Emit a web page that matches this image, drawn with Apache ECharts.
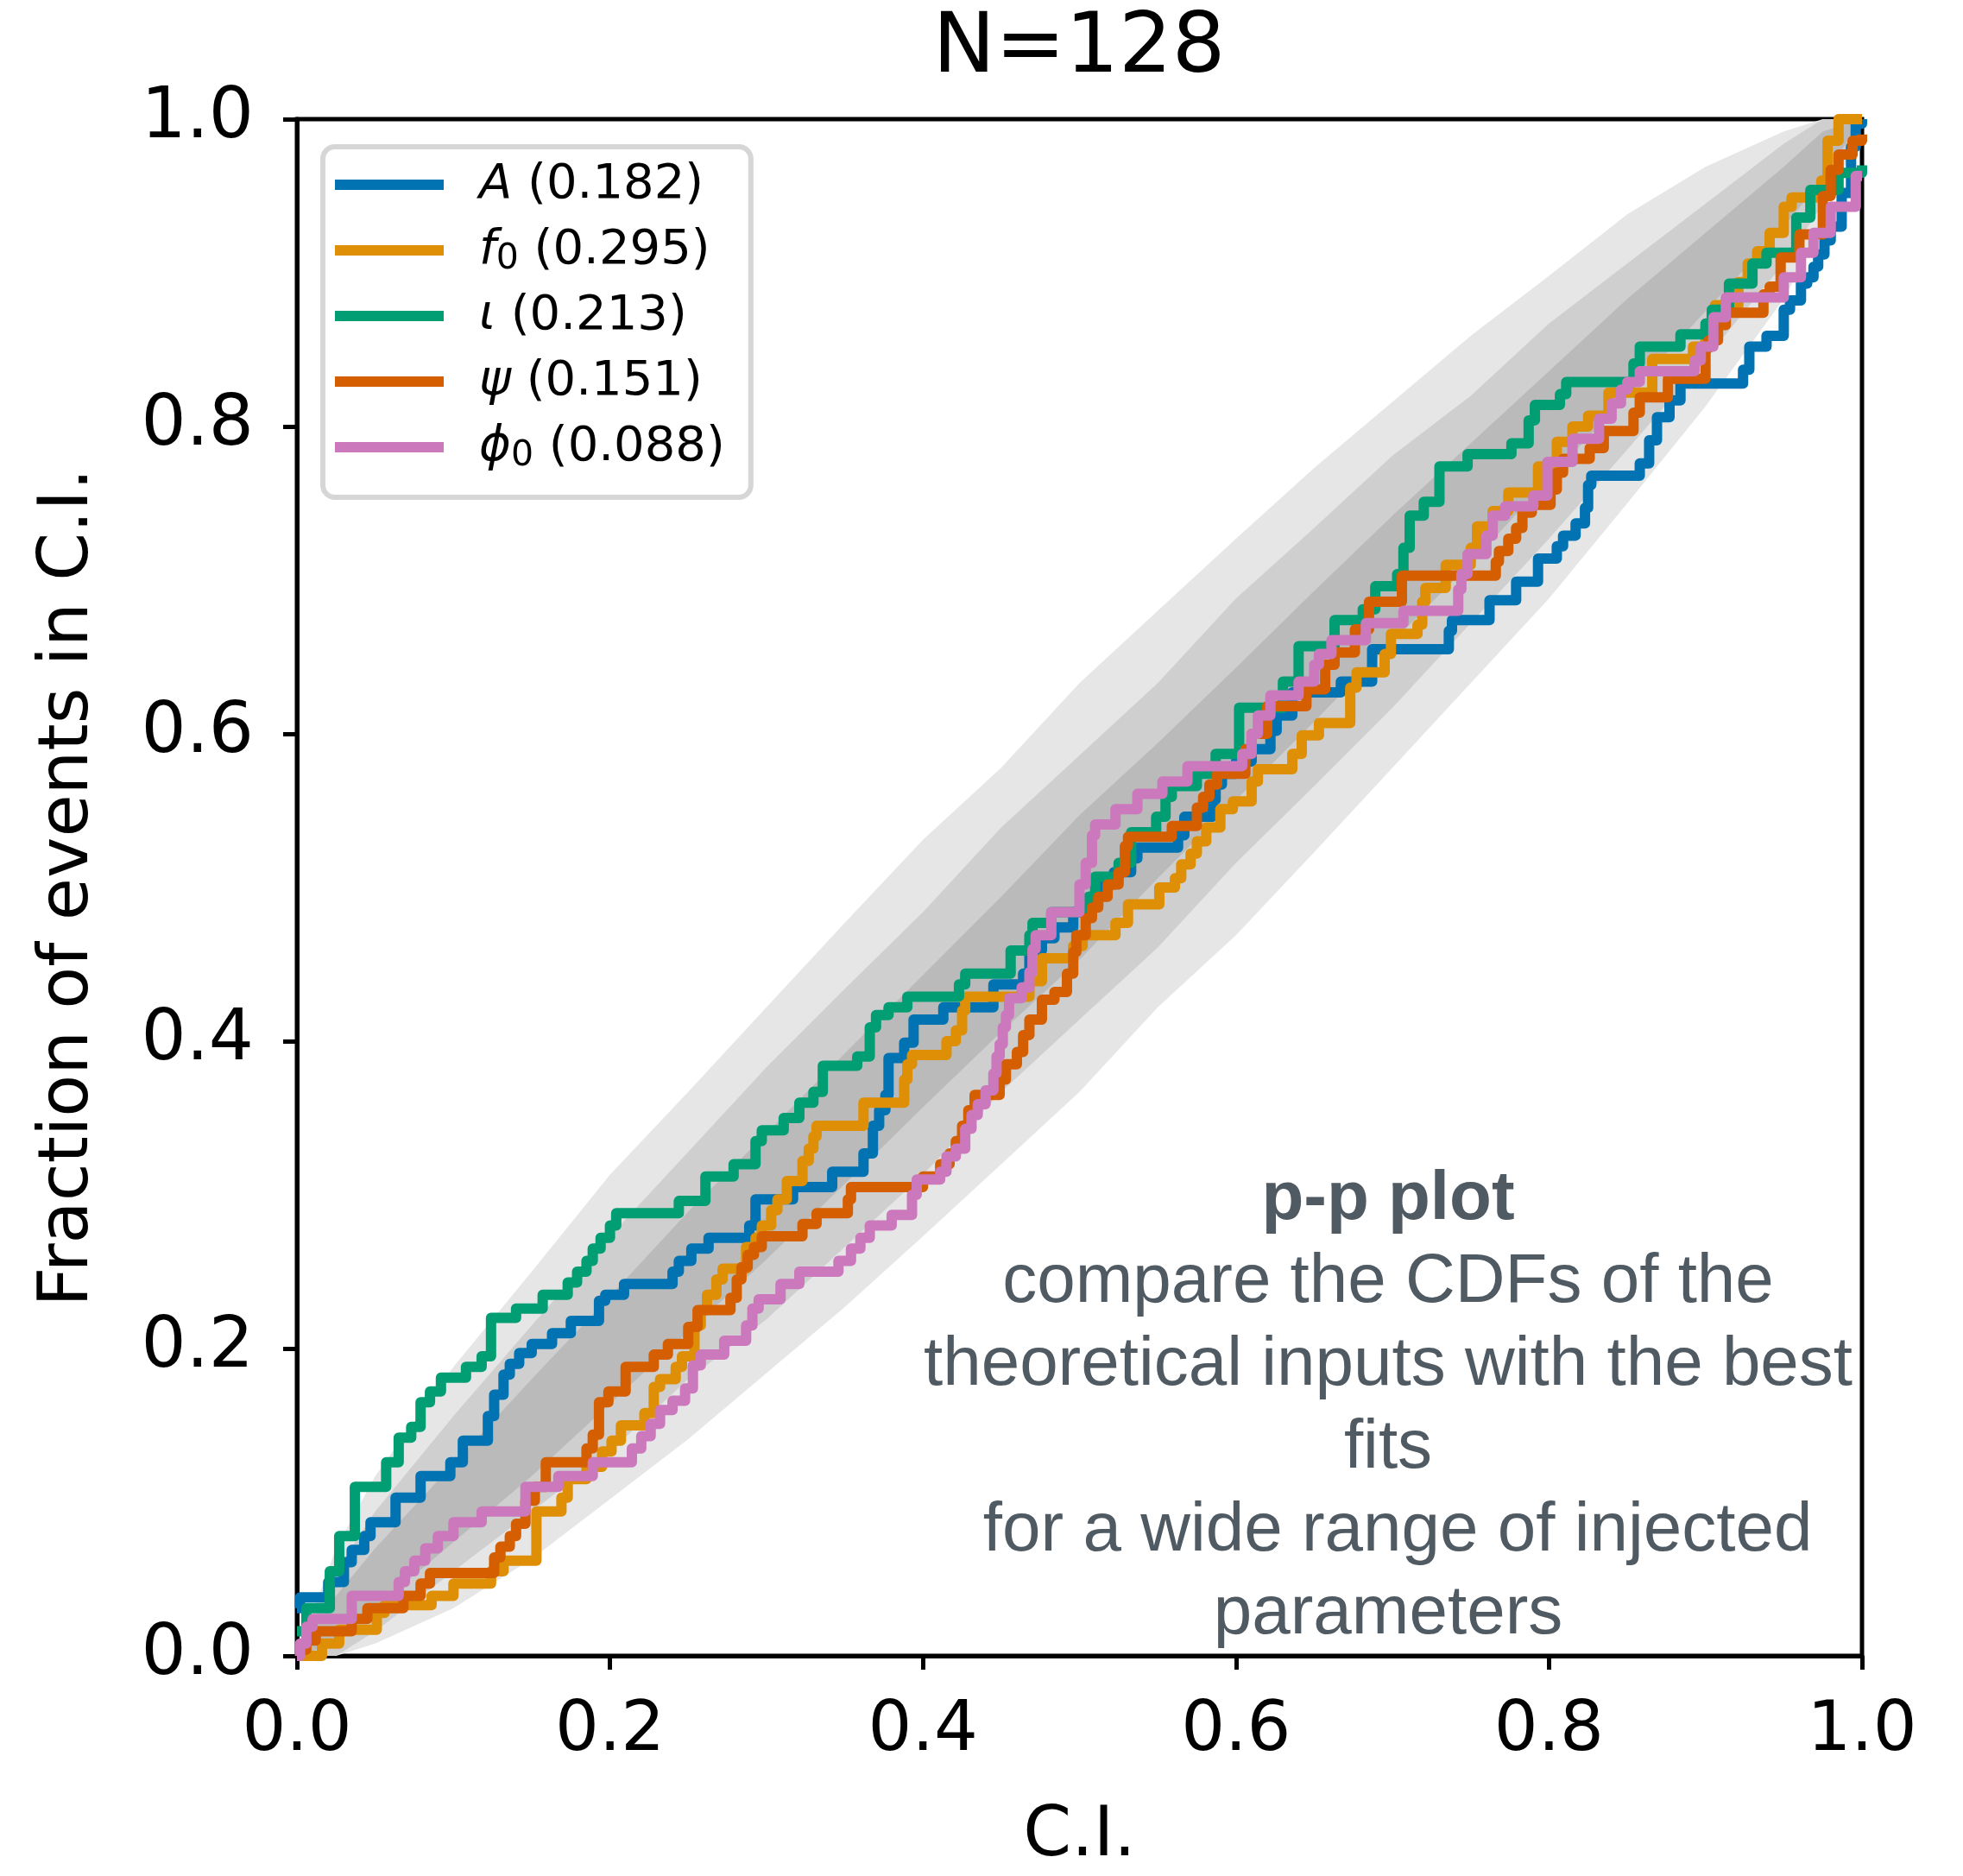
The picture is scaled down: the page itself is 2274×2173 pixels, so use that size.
<!DOCTYPE html>
<html><head><meta charset="utf-8">
<script src="https://cdn.jsdelivr.net/npm/echarts@6/dist/echarts.min.js"></script>
<style>html,body{margin:0;padding:0;background:#fff}#c{width:2274px;height:2173px}</style>
</head><body><div id="c"></div>
<script>
// ---------- text ----------
const titleText = 'N=128';
const xAxisName = 'C.I.';
const yAxisName = 'Fraction of events in C.I.';
const seriesNames = ['A (0.182)', 'f0 (0.295)', 'ι (0.213)', 'ψ (0.151)', 'ϕ0 (0.088)'];
const legendRichText = ['{it|A} (0.182)', '{it|f}{sub|0} (0.295)', '{it|ι} (0.213)', '{it|ψ} (0.151)', '{it|ϕ}{sub|0} (0.088)'];
const seriesColors = ['#0173b2', '#de8f05', '#029e73', '#d55e00', '#cc78bc'];
const noteTitle = 'p-p plot';
const noteLines = ['compare the CDFs of the', 'theoretical inputs with the best', 'fits', ' for a wide range of injected', 'parameters'];

// ---------- confidence bands ----------
const ciGrid  = [0, 0.025, 0.05, 0.1, 0.15, 0.2, 0.25, 0.3, 0.35, 0.4, 0.45, 0.5, 0.55, 0.6, 0.65, 0.7, 0.75, 0.8, 0.85, 0.9, 0.95, 0.975, 1];
const band3Lo = [0, 0, 0.008, 0.031, 0.063, 0.102, 0.141, 0.184, 0.227, 0.273, 0.320, 0.367, 0.422, 0.469, 0.523, 0.578, 0.633, 0.688, 0.750, 0.813, 0.883, 0.930, 1];
const band3Hi = [0, 0.070, 0.117, 0.188, 0.250, 0.313, 0.367, 0.422, 0.477, 0.531, 0.578, 0.633, 0.680, 0.727, 0.773, 0.816, 0.859, 0.898, 0.938, 0.969, 0.992, 1, 1];
const band2Lo = [0, 0, 0.016, 0.055, 0.094, 0.133, 0.180, 0.219, 0.266, 0.313, 0.367, 0.414, 0.461, 0.516, 0.566, 0.617, 0.672, 0.727, 0.785, 0.844, 0.906, 0.945, 1];
const band2Hi = [0, 0.055, 0.094, 0.156, 0.215, 0.273, 0.328, 0.383, 0.434, 0.484, 0.539, 0.586, 0.633, 0.688, 0.734, 0.781, 0.820, 0.867, 0.906, 0.945, 0.984, 1, 1];
const band1Lo = [0, 0.008, 0.031, 0.074, 0.117, 0.164, 0.211, 0.258, 0.307, 0.357, 0.406, 0.453, 0.506, 0.557, 0.608, 0.660, 0.711, 0.766, 0.820, 0.875, 0.930, 0.961, 1];
const band1Hi = [0, 0.039, 0.070, 0.125, 0.180, 0.234, 0.289, 0.340, 0.392, 0.443, 0.494, 0.547, 0.594, 0.643, 0.693, 0.742, 0.789, 0.836, 0.883, 0.926, 0.969, 0.992, 1];

// ---------- p-p curves: [C.I., fraction] step corners ----------
const ppA = [[0,0.031],[0.002,0.038],[0.020,0.048],[0.030,0.061],[0.035,0.069],[0.043,0.078],[0.047,0.087],[0.063,0.103],[0.079,0.117],[0.098,0.126],[0.106,0.140],[0.122,0.156],[0.126,0.170],[0.132,0.183],[0.136,0.190],[0.142,0.197],[0.150,0.203],[0.163,0.210],[0.175,0.218],[0.193,0.231],[0.197,0.235],[0.209,0.242],[0.240,0.250],[0.244,0.257],[0.252,0.265],[0.263,0.272],[0.289,0.280],[0.293,0.297],[0.317,0.305],[0.342,0.315],[0.362,0.327],[0.368,0.345],[0.372,0.355],[0.376,0.365],[0.378,0.389],[0.388,0.399],[0.394,0.414],[0.413,0.422],[0.445,0.437],[0.464,0.444],[0.468,0.459],[0.476,0.467],[0.484,0.474],[0.496,0.484],[0.506,0.494],[0.512,0.502],[0.522,0.510],[0.533,0.519],[0.537,0.526],[0.563,0.534],[0.567,0.546],[0.585,0.557],[0.587,0.567],[0.591,0.574],[0.600,0.582],[0.610,0.590],[0.622,0.602],[0.626,0.612],[0.636,0.627],[0.667,0.634],[0.687,0.655],[0.736,0.667],[0.738,0.674],[0.762,0.687],[0.779,0.699],[0.793,0.714],[0.805,0.722],[0.809,0.729],[0.817,0.737],[0.823,0.747],[0.825,0.762],[0.827,0.768],[0.858,0.776],[0.864,0.791],[0.869,0.806],[0.877,0.817],[0.884,0.828],[0.924,0.837],[0.928,0.852],[0.939,0.859],[0.950,0.876],[0.954,0.882],[0.961,0.893],[0.965,0.897],[0.969,0.904],[0.972,0.912],[0.976,0.921],[0.980,0.930],[0.987,0.952],[0.993,0.982],[0.996,0.997],[1.0,1.0]];
const ppF0 = [[0,0.0],[0.016,0.008],[0.027,0.017],[0.051,0.028],[0.056,0.033],[0.086,0.039],[0.100,0.047],[0.124,0.055],[0.132,0.062],[0.153,0.094],[0.169,0.103],[0.173,0.115],[0.185,0.123],[0.195,0.133],[0.201,0.140],[0.207,0.150],[0.222,0.158],[0.228,0.175],[0.232,0.180],[0.242,0.188],[0.246,0.195],[0.254,0.215],[0.258,0.225],[0.262,0.235],[0.268,0.245],[0.272,0.252],[0.287,0.266],[0.293,0.272],[0.297,0.280],[0.303,0.290],[0.307,0.297],[0.313,0.309],[0.323,0.322],[0.327,0.330],[0.330,0.338],[0.332,0.345],[0.362,0.360],[0.388,0.375],[0.390,0.385],[0.393,0.391],[0.415,0.400],[0.421,0.407],[0.425,0.420],[0.427,0.429],[0.468,0.439],[0.476,0.454],[0.496,0.462],[0.502,0.469],[0.523,0.477],[0.531,0.489],[0.551,0.500],[0.561,0.506],[0.565,0.515],[0.571,0.522],[0.575,0.530],[0.581,0.539],[0.590,0.551],[0.598,0.556],[0.610,0.569],[0.614,0.577],[0.636,0.587],[0.642,0.599],[0.653,0.607],[0.673,0.630],[0.677,0.640],[0.695,0.652],[0.699,0.665],[0.716,0.671],[0.719,0.686],[0.721,0.695],[0.734,0.710],[0.750,0.721],[0.754,0.735],[0.764,0.745],[0.774,0.757],[0.793,0.774],[0.805,0.790],[0.815,0.800],[0.825,0.807],[0.838,0.822],[0.866,0.844],[0.892,0.852],[0.900,0.864],[0.906,0.879],[0.921,0.894],[0.927,0.906],[0.933,0.914],[0.941,0.926],[0.950,0.943],[0.955,0.949],[0.974,0.960],[0.978,0.986],[0.985,1.0],[1.0,1.0]];
const ppIota = [[0,0.016],[0.006,0.031],[0.021,0.055],[0.027,0.078],[0.037,0.110],[0.057,0.126],[0.065,0.142],[0.073,0.149],[0.079,0.165],[0.085,0.172],[0.092,0.181],[0.108,0.188],[0.118,0.195],[0.124,0.220],[0.140,0.226],[0.157,0.235],[0.173,0.243],[0.179,0.250],[0.185,0.257],[0.189,0.265],[0.194,0.272],[0.200,0.280],[0.204,0.288],[0.244,0.296],[0.261,0.312],[0.279,0.320],[0.293,0.335],[0.297,0.342],[0.311,0.350],[0.321,0.360],[0.330,0.367],[0.336,0.384],[0.358,0.390],[0.366,0.409],[0.370,0.417],[0.378,0.422],[0.390,0.429],[0.423,0.437],[0.427,0.444],[0.456,0.459],[0.468,0.469],[0.470,0.477],[0.482,0.484],[0.506,0.494],[0.510,0.507],[0.525,0.516],[0.533,0.536],[0.549,0.546],[0.555,0.559],[0.559,0.566],[0.575,0.574],[0.587,0.587],[0.602,0.617],[0.630,0.634],[0.640,0.657],[0.663,0.674],[0.681,0.681],[0.689,0.696],[0.703,0.704],[0.707,0.721],[0.711,0.742],[0.720,0.751],[0.730,0.774],[0.748,0.782],[0.776,0.789],[0.787,0.804],[0.791,0.814],[0.807,0.821],[0.811,0.829],[0.854,0.841],[0.858,0.852],[0.884,0.860],[0.900,0.867],[0.904,0.876],[0.915,0.893],[0.930,0.906],[0.939,0.913],[0.958,0.936],[0.967,0.954],[0.985,0.965],[1.0,0.970]];
const ppPsi = [[0,0.004],[0.006,0.010],[0.012,0.016],[0.035,0.024],[0.045,0.031],[0.068,0.039],[0.079,0.047],[0.085,0.054],[0.126,0.064],[0.130,0.071],[0.136,0.078],[0.140,0.086],[0.146,0.101],[0.152,0.110],[0.159,0.126],[0.185,0.135],[0.189,0.144],[0.193,0.165],[0.199,0.172],[0.210,0.188],[0.228,0.196],[0.237,0.203],[0.250,0.214],[0.256,0.225],[0.277,0.233],[0.281,0.245],[0.284,0.253],[0.288,0.261],[0.292,0.266],[0.297,0.273],[0.323,0.281],[0.332,0.288],[0.352,0.297],[0.354,0.305],[0.400,0.312],[0.411,0.320],[0.417,0.327],[0.421,0.335],[0.425,0.345],[0.429,0.355],[0.433,0.365],[0.449,0.375],[0.453,0.385],[0.460,0.393],[0.464,0.404],[0.468,0.414],[0.476,0.427],[0.484,0.432],[0.492,0.444],[0.496,0.458],[0.498,0.469],[0.504,0.480],[0.508,0.487],[0.512,0.494],[0.518,0.502],[0.525,0.510],[0.529,0.527],[0.531,0.533],[0.559,0.540],[0.575,0.552],[0.579,0.559],[0.583,0.567],[0.588,0.574],[0.606,0.590],[0.610,0.600],[0.620,0.618],[0.645,0.629],[0.657,0.645],[0.663,0.653],[0.676,0.668],[0.685,0.686],[0.706,0.703],[0.766,0.712],[0.768,0.719],[0.774,0.727],[0.779,0.734],[0.783,0.744],[0.789,0.749],[0.801,0.759],[0.805,0.770],[0.809,0.779],[0.826,0.786],[0.835,0.797],[0.854,0.809],[0.858,0.819],[0.876,0.831],[0.900,0.851],[0.902,0.856],[0.908,0.866],[0.913,0.874],[0.937,0.886],[0.941,0.891],[0.948,0.910],[0.960,0.925],[0.975,0.950],[0.980,0.967],[0.985,0.977],[0.994,0.986],[1.0,0.990]];
const ppPhi0 = [[0,0.0],[0.002,0.008],[0.006,0.019],[0.010,0.024],[0.035,0.039],[0.065,0.048],[0.069,0.055],[0.075,0.062],[0.082,0.070],[0.090,0.078],[0.100,0.087],[0.118,0.094],[0.146,0.110],[0.167,0.117],[0.189,0.126],[0.214,0.135],[0.220,0.143],[0.226,0.151],[0.232,0.160],[0.240,0.166],[0.248,0.174],[0.253,0.189],[0.258,0.196],[0.273,0.205],[0.287,0.215],[0.291,0.226],[0.295,0.232],[0.309,0.242],[0.321,0.250],[0.346,0.257],[0.354,0.265],[0.360,0.272],[0.366,0.280],[0.380,0.287],[0.393,0.300],[0.396,0.310],[0.411,0.315],[0.415,0.325],[0.421,0.330],[0.427,0.343],[0.431,0.352],[0.435,0.359],[0.440,0.368],[0.445,0.379],[0.447,0.390],[0.449,0.398],[0.451,0.409],[0.453,0.417],[0.455,0.428],[0.463,0.435],[0.468,0.445],[0.470,0.460],[0.472,0.469],[0.482,0.484],[0.500,0.502],[0.504,0.516],[0.508,0.534],[0.510,0.541],[0.523,0.551],[0.537,0.561],[0.553,0.569],[0.569,0.579],[0.604,0.587],[0.610,0.600],[0.614,0.612],[0.622,0.625],[0.640,0.634],[0.650,0.645],[0.653,0.652],[0.661,0.661],[0.683,0.672],[0.707,0.680],[0.742,0.694],[0.744,0.704],[0.748,0.717],[0.760,0.729],[0.764,0.742],[0.772,0.748],[0.790,0.755],[0.799,0.777],[0.815,0.792],[0.832,0.805],[0.840,0.815],[0.846,0.824],[0.850,0.829],[0.858,0.836],[0.893,0.843],[0.897,0.852],[0.905,0.871],[0.913,0.884],[0.950,0.897],[0.961,0.913],[0.969,0.926],[0.980,0.943],[0.996,0.963],[1.0,0.963]];

const ppSeriesData = [ppA, ppF0, ppIota, ppPsi, ppPhi0];

// ---------- chart ----------
const chart = echarts.init(document.getElementById('c'), null, {renderer: 'canvas'});
const FONT = 'DejaVu Sans';

function bandSeries(lo, hi, color, z) {
  return {
    type: 'custom', coordinateSystem: 'cartesian2d', silent: true, z: z, clip: true,
    data: [[0, 0]],
    encode: {x: 0, y: 1},
    renderItem: function (params, api) {
      const pts = [];
      for (let i = 0; i < ciGrid.length; i++) pts.push(api.coord([ciGrid[i], hi[i]]));
      for (let i = ciGrid.length - 1; i >= 0; i--) pts.push(api.coord([ciGrid[i], lo[i]]));
      return {type: 'polygon', shape: {points: pts}, style: {fill: color}};
    }
  };
}

const series = [
  bandSeries(band3Lo, band3Hi, '#e6e6e6', 1),
  bandSeries(band2Lo, band2Hi, '#cfcfcf', 1),
  bandSeries(band1Lo, band1Hi, '#bababa', 1)
];
ppSeriesData.forEach(function (d, i) {
  series.push({
    name: seriesNames[i], type: 'line', step: 'end', data: d,
    symbol: 'none', showSymbol: false, z: 3 + i, clip: true,
    color: seriesColors[i],
    itemStyle: {color: seriesColors[i]},
    lineStyle: {width: 12, color: seriesColors[i], join: 'round', cap: 'butt'}
  });
});

const graphics = [{
  type: 'text', x: 1608, y: 1390, z: 20,
  style: {text: noteTitle, font: 'bold 80px "Liberation Sans", Arial, sans-serif', fill: '#505a62', textAlign: 'center', textVerticalAlign: 'middle'}
}];
noteLines.forEach(function (t, i) {
  graphics.push({
    type: 'text', x: 1608, y: 1486 + i * 96, z: 20,
    style: {text: t, font: '80px "Liberation Sans", Arial, sans-serif', fill: '#505a62', textAlign: 'center', textVerticalAlign: 'middle'}
  });
});

const option = {
  animation: false,
  backgroundColor: '#ffffff',
  title: {
    text: titleText, left: 1250, top: 8, textAlign: 'center', padding: 0,
    textStyle: {fontFamily: FONT, fontSize: 97, fontWeight: 'normal', color: '#000', lineHeight: 100}
  },
  grid: {left: 344, right: 117, top: 138, bottom: 243, show: true, borderColor: '#000', borderWidth: 5, backgroundColor: 'transparent'},
  legend: {
    orient: 'vertical', left: 374, top: 170,
    data: seriesNames, selectedMode: false,
    icon: 'rect',
    itemWidth: 126, itemHeight: 12, itemGap: 14,
    lineStyle: {width: 12},
    padding: [13, 30, 27, 14],
    backgroundColor: '#ffffff', borderColor: '#d6d6d6', borderWidth: 6, borderRadius: 14,
    formatter: function (name) { return legendRichText[seriesNames.indexOf(name)]; },
    textStyle: {
      fontFamily: FONT, fontSize: 56, color: '#000', lineHeight: 62, padding: [0, 0, 0, 36],
      rich: {
        it: {fontFamily: FONT, fontSize: 56, fontStyle: 'italic', color: '#000', lineHeight: 62},
        sub: {fontFamily: FONT, fontSize: 41, color: '#000', lineHeight: 30, verticalAlign: 'bottom'}
      }
    }
  },
  xAxis: {
    type: 'value', min: 0, max: 1, interval: 0.2,
    name: xAxisName, nameLocation: 'middle', nameGap: 170,
    nameTextStyle: {fontFamily: FONT, fontSize: 80, color: '#000'},
    axisLine: {show: true, lineStyle: {color: '#000', width: 5}},
    axisTick: {show: true, inside: false, length: 16, lineStyle: {color: '#000', width: 5}},
    axisLabel: {fontFamily: FONT, fontSize: 80, color: '#000', margin: 48, formatter: function (v) { return v.toFixed(1); }},
    splitLine: {show: false}
  },
  yAxis: {
    type: 'value', min: 0, max: 1, interval: 0.2,
    name: yAxisName, nameLocation: 'middle', nameGap: 224, nameRotate: 90,
    nameTextStyle: {fontFamily: FONT, fontSize: 80, color: '#000'},
    axisLine: {show: true, lineStyle: {color: '#000', width: 5}},
    axisTick: {show: true, inside: false, length: 16, lineStyle: {color: '#000', width: 5}},
    axisLabel: {fontFamily: FONT, fontSize: 82, color: '#000', margin: 50, formatter: function (v) { return v.toFixed(1); }},
    splitLine: {show: false}
  },
  graphic: graphics,
  series: series
};
chart.setOption(option);
</script>
</body></html>
